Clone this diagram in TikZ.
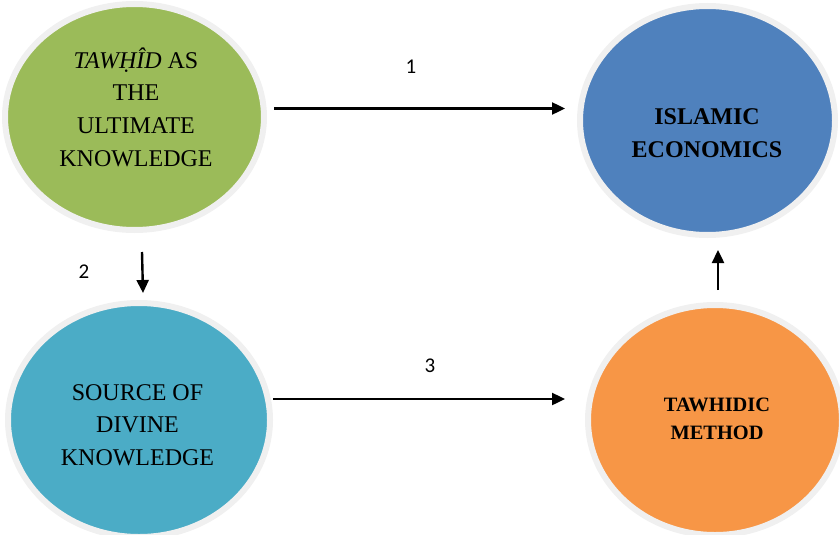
\documentclass[tikz,border=0pt]{standalone}
\usepackage{fontspec}
\setmainfont{Liberation Serif}
\newfontfamily\labfont{Carlito}
\usetikzlibrary{shapes.geometric,arrows.meta,calc}
\definecolor{cgreen}{HTML}{9BBB59}
\definecolor{cblue}{HTML}{4F81BD}
\definecolor{cteal}{HTML}{4BACC6}
\definecolor{corange}{HTML}{F79646}
\definecolor{crim}{HTML}{F0F0F0}
\begin{document}
\begin{tikzpicture}[x=1pt,y=-1pt,
  blob/.style={ellipse,draw=crim,line width=6pt,inner sep=0pt},
  bigtext/.style={align=center,font=\fontsize{24}{32.7}\selectfont},
  boldtext/.style={align=center,font=\fontsize{24}{32.5}\selectfont\bfseries},
  smalltext/.style={align=center,font=\fontsize{20.4}{28}\selectfont\bfseries},
  numlab/.style={font=\labfont\fontsize{21}{24}\selectfont},
  arr/.style={line width=2.4pt,-{Triangle[length=13pt,width=12pt]}}]
\useasboundingbox (0,0) rectangle (840,535);
\node[blob,fill=cgreen,minimum width=259pt,minimum height=226pt] (g) at (134.5,117) {};
\node[blob,fill=cblue,minimum width=255pt,minimum height=229pt] (b) at (707.5,120.5) {};
\node[blob,fill=cteal,minimum width=262pt,minimum height=234pt] (t) at (139,420) {};
\node[blob,fill=corange,minimum width=254pt,minimum height=230pt] (o) at (715,420) {};
\node[bigtext] (gt) at (136,107) {\textit{TAWḤÎD} AS\\THE\\ULTIMATE\\KNOWLEDGE};
\node[boldtext] (bt) at (707,133) {ISLAMIC\\ECONOMICS};
\node[bigtext] (tt) at (137.5,425) {SOURCE OF\\DIVINE\\KNOWLEDGE};
\node[smalltext] (ot) at (717,418.5) {TAWHIDIC\\METHOD};
\draw[arr] ($(g.east)+(7,-8.5)$) -- ($(b.west)+(-12,-12)$);
\draw[arr] ($(g.south)+(7.5,19)$) -- ($(t.north)+(4,-7)$);
\draw[arr] ($(t.east)+(0,-21)$) -- ($(o.west)+(-20,-21)$);
\draw[arr] ($(o.north)+(3,-12)$) -- ($(b.south)+(10.5,12)$);
\node[numlab] (l1) at (411,66.5) {1};
\node[numlab] (l2) at (84,272) {2};
\node[numlab] (l3) at (430,365.5) {3};
\end{tikzpicture}
\end{document}
